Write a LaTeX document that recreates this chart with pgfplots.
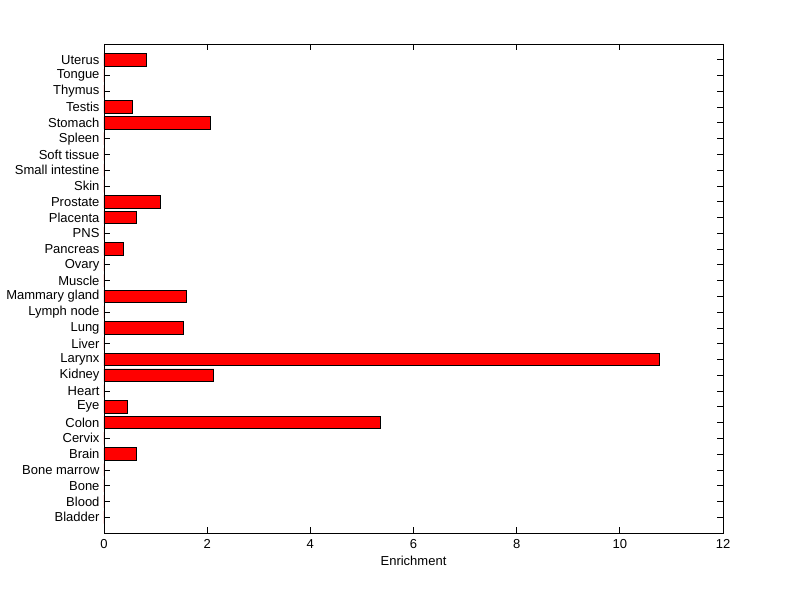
\documentclass[border=0pt]{standalone}
\usepackage{pgfplots}
\pgfplotsset{compat=1.18}
\usepackage{fontspec}
\setmainfont{Liberation Sans}
\begin{document}
\begin{tikzpicture}
\path[use as bounding box] (-104pt,-66pt) rectangle (696pt,533pt);
\begin{axis}[
  at={(0pt,0pt)}, anchor=south west,
  scale only axis, width=619pt, height=489pt,
  xbar, bar width=0.8, bar shift=0pt,
  xmin=0, xmax=12, ymin=0, ymax=31,
  xtick={0,2,...,12},
  ytick={1,...,30},
  yticklabels={Bladder,Blood,Bone,Bone marrow,Brain,Cervix,Colon,Eye,Heart,Kidney,Larynx,Liver,Lung,Lymph node,Mammary gland,Muscle,Ovary,Pancreas,PNS,Placenta,Prostate,Skin,Small intestine,Soft tissue,Spleen,Stomach,Testis,Thymus,Tongue,Uterus},
  tick align=inside, major tick length=6pt,
  tick style={black, line width=0.8pt},
  axis line style={line width=0.8pt},
  xlabel={Enrichment},
  xlabel style={yshift=0pt},
  ticklabel style={font=\fontsize{13}{15}\selectfont},
  label style={font=\fontsize{13}{15}\selectfont},
  /pgf/number format/assume math mode=true,
  yticklabel style={xshift=-1pt},
  xticklabel style={yshift=-3pt},
]
\addplot[fill=red, draw=black, line width=0.8pt] coordinates {
(0,1) (0,2) (0,3) (0,4) (0.62,5) (0,6) (5.35,7) (0.45,8) (0,9) (2.13,10)
(10.76,11) (0,12) (1.53,13) (0,14) (1.59,15) (0,16) (0,17) (0.37,18) (0,19) (0.62,20)
(1.10,21) (0,22) (0,23) (0,24) (0,25) (2.07,26) (0.56,27) (0,28) (0,29) (0.83,30)
};
\end{axis}
\end{tikzpicture}
\end{document}
